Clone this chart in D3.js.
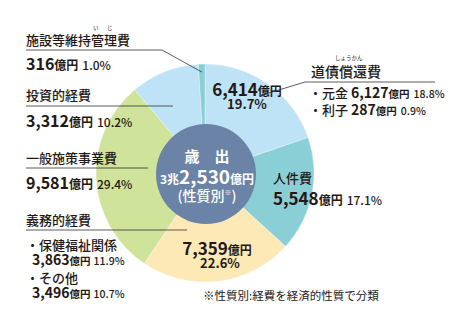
<!DOCTYPE html>
<html><head><meta charset="utf-8">
<script src="https://cdn.jsdelivr.net/npm/d3@7"></script>
<style>
html,body{margin:0;padding:0;background:#fff;}
svg{display:block;font-family:"Noto Sans CJK JP","Noto Sans",sans-serif;}
</style></head>
<body>
<svg id="chart" width="450" height="333"></svg>
<script>
// ---- data ----
const categories = ["道債償還費","人件費","義務的経費","一般施策事業費","投資的経費","施設等維持管理費"];
const values = [6414, 5548, 7359, 9581, 3312, 316];
const percents = ["19.7%","17.1%","22.6%","29.4%","10.2%","1.0%"];
const colors = ["#bee3f6","#8bcfd6","#fde9b6","#cfe39a","#bee3f6","#8bcfd6"];
const subLabels = ["・元金","・利子"];
const subValues = ["6,127","287"];
const subPercents = ["18.8%","0.9%"];
const dutyLabels = ["・保健福祉関係","・その他"];
const dutyValues = ["3,863","3,496"];
const dutyPercents = ["11.9%","10.7%"];
const totalLabel = ["歳　出","3兆","2,530","億円","(性質別","※",")"];
const note = "※性質別:経費を経済的性質で分類";

const svg = d3.select("#chart");
const cx = 205, cy = 173, R = 109, r0 = 50;
const ink = "#231815";

const pie = d3.pie().sort(null).value(d => d)(values);
const arc = d3.arc().innerRadius(0).outerRadius(R);
const g = svg.append("g").attr("transform", `translate(${cx},${cy})`);
g.selectAll("path").data(pie).join("path")
  .attr("d", arc).attr("fill", (d,i) => colors[i])
  .attr("stroke", "#fff").attr("stroke-width", 0.3);
g.append("circle").attr("cx", 1).attr("cy", 1).attr("r", r0).attr("fill", "#6b83a6");

// center text
const ct = g.append("g").attr("fill", "#fff").attr("text-anchor", "middle").attr("font-weight", 700);
ct.append("text").attr("x", 2).attr("y", -11).attr("font-size", 15).text(totalLabel[0]);
const t2 = ct.append("text").attr("x", 2).attr("y", 11);
t2.append("tspan").attr("font-size", 12).text(totalLabel[1]);
t2.append("tspan").attr("font-size", 19).text(totalLabel[2]);
t2.append("tspan").attr("font-size", 12).text(totalLabel[3]);
const t3 = ct.append("text").attr("x", 2).attr("y", 28).attr("font-size", 14).attr("font-weight", 500);
t3.append("tspan").text(totalLabel[4]);
t3.append("tspan").attr("font-size", 7).attr("dy", -6).text(totalLabel[5]);
t3.append("tspan").attr("dy", 6).text(totalLabel[6]);

const fmt = d3.format(",");

function valueText(sel, x, y, num, pct, big, anchor) {
  const t = sel.append("text").attr("x", x).attr("y", y).attr("fill", ink)
    .attr("font-weight", 700).attr("text-anchor", anchor || "start");
  t.append("tspan").attr("font-size", big).text(num);
  t.append("tspan").attr("font-size", 12).text("億円");
  if (pct) t.append("tspan").attr("font-size", 12).attr("font-weight", 500).attr("dx", 4).text(pct);
  return t;
}
function label(x, y, txt, size) {
  return svg.append("text").attr("x", x).attr("y", y).attr("fill", ink)
    .attr("font-size", size || 13).attr("font-weight", 500).text(txt);
}
function ruby(x, y, txt) {
  svg.append("text").attr("x", x).attr("y", y).attr("fill", ink)
    .attr("font-size", 5.5).text(txt);
}
function line(pts) {
  svg.append("path").attr("d", d3.line()(pts)).attr("fill", "none")
    .attr("stroke", "#333").attr("stroke-width", 0.8);
}
const pt = (i, rr) => {
  const a = (pie[i].startAngle + pie[i].endAngle) / 2;
  return [cx + rr * Math.sin(a), cy - rr * Math.cos(a)];
};

// in-slice labels
valueText(svg, 247, 96, fmt(values[0]), null, 17, "middle");
svg.append("text").attr("x", 247).attr("y", 109).attr("fill", ink).attr("text-anchor", "middle")
  .attr("font-size", 13).attr("font-weight", 700).text(percents[0]);
label(273, 183, categories[1], 13);
valueText(svg, 273, 205, fmt(values[1]), percents[1], 17);
valueText(svg, 217, 255, fmt(values[2]), null, 17, "middle");
svg.append("text").attr("x", 220).attr("y", 268).attr("fill", ink).attr("text-anchor", "middle")
  .attr("font-size", 13).attr("font-weight", 700).text(percents[2]);

// 道債償還費 (right)
ruby(335, 60, "しょうかん");
label(311, 77, categories[0], 14);
line([pt(0, 95), [305, 82], [435, 82]]);
subLabels.forEach((s, i) => {
  const t = svg.append("text").attr("x", 309).attr("y", 98 + i * 17).attr("fill", ink).attr("font-weight", 700);
  t.append("tspan").attr("font-size", 13).attr("font-weight", 500).text(s);
  t.append("tspan").attr("font-size", 14).attr("dx", 3).text(subValues[i]);
  t.append("tspan").attr("font-size", 10.5).text("億円");
  t.append("tspan").attr("font-size", 10.5).attr("font-weight", 500).attr("dx", 4).text(subPercents[i]);
});

// left side
ruby(93, 30, "い");
ruby(107, 30, "じ");
label(26, 45, categories[5], 13);
line([[26, 50], [162, 50], pt(5, 101)]);
valueText(svg, 26, 70, fmt(values[5]), percents[5], 16);

label(26, 100, categories[4], 13);
line([[26, 106], [173, 106]]);
valueText(svg, 26, 127, fmt(values[4]), percents[4], 16);

label(26, 163, categories[3], 13);
line([[26, 168], [148, 168]]);
valueText(svg, 26, 189, fmt(values[3]), percents[3], 16);

label(26, 225, categories[2], 13);
line([[26, 230], [187, 230]]);
dutyLabels.forEach((s, i) => {
  label(26, 250 + i * 33, s, 13);
  const t = svg.append("text").attr("x", 32).attr("y", 265 + i * 33).attr("fill", ink).attr("font-weight", 700);
  t.append("tspan").attr("font-size", 14).text(dutyValues[i]);
  t.append("tspan").attr("font-size", 10.5).text("億円");
  t.append("tspan").attr("font-size", 10.5).attr("font-weight", 500).attr("dx", 3).text(dutyPercents[i]);
});

svg.append("text").attr("x", 203).attr("y", 300).attr("fill", ink)
  .attr("font-size", 11.5).text(note);
</script>
</body></html>
